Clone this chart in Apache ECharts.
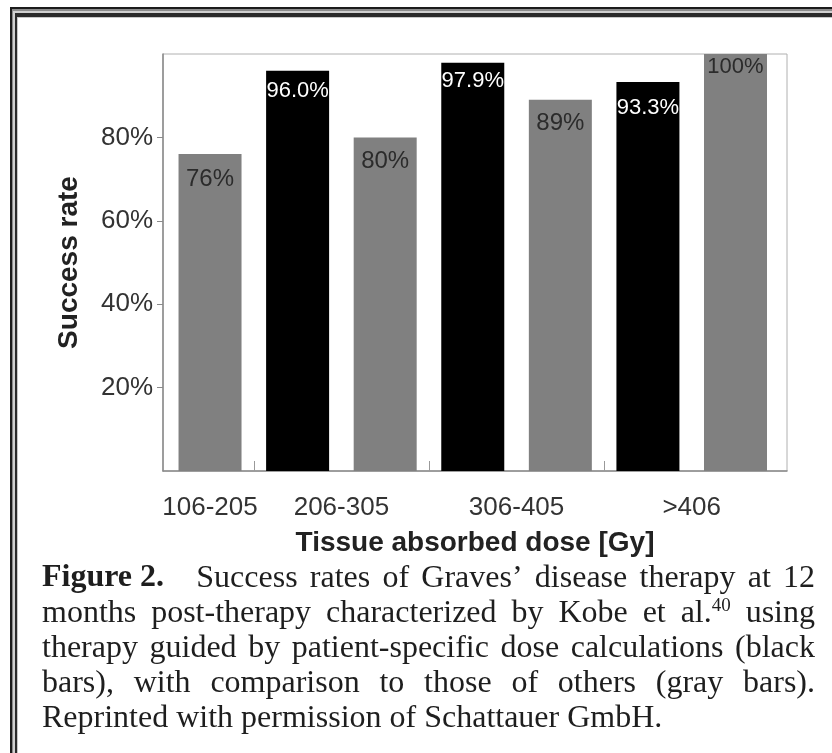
<!DOCTYPE html>
<html>
<head>
<meta charset="utf-8">
<script src="https://cdn.jsdelivr.net/npm/echarts@6/dist/echarts.min.js"></script>
<style>
html, body { margin: 0; padding: 0; background: #fff; }
#chart { width: 832px; height: 753px; }
</style>
</head>
<body>
<div id="chart"></div>
<script>
var groups = ['106-205', '206-305', '306-405', '>406'];
var groupPos = [0, 1.5, 3.5, 5.5];
var rates = [76, 96.0, 80, 97.9, 89, 93.3, 100];
var kobe = [false, true, false, true, false, true, false];
var yTicks = [20, 40, 60, 80];

// label offsets inside the bars, as they sit in the figure
var labelGap = [13, 9, 12, 7, 12, 15, 2];
var labelSize = [24, 22, 24, 22, 24, 22, 22];

var captionLines = [
    ['*Figure 2.', 'Success', 'rates', 'of', 'Graves\u2019', 'disease', 'therapy', 'at', '12'],
    ['months', 'post-therapy', 'characterized', 'by', 'Kobe', 'et', 'al.^40', 'using'],
    ['therapy', 'guided', 'by', 'patient-specific', 'dose', 'calculations', '(black'],
    ['bars),', 'with', 'comparison', 'to', 'those', 'of', 'others', '(gray', 'bars).'],
    ['Reprinted', 'with', 'permission', 'of', 'Schattauer', 'GmbH.']
];

var chart = echarts.init(document.getElementById('chart'));

function captionGraphics() {
    var ctx = document.createElement('canvas').getContext('2d');
    var fs = 32, supFs = 19;
    var fam = '"Liberation Serif", "Times New Roman", serif';
    var normal = fs + 'px ' + fam;
    var bold = 'bold ' + fs + 'px ' + fam;
    var supFont = supFs + 'px ' + fam;
    var left = 42, right = 815, base0 = 589, lead = 35;
    var out = [];

    function parts(tok) {
        if (tok.charAt(0) === '*') return [{ t: tok.slice(1), f: bold, dy: 0, mid: fs * 0.3375 }];
        var k = tok.indexOf('^');
        if (k > 0) {
            return [
                { t: tok.slice(0, k), f: normal, dy: 0, mid: fs * 0.3375 },
                { t: tok.slice(k + 1), f: supFont, dy: -12, mid: supFs * 0.3375 }
            ];
        }
        return [{ t: tok, f: normal, dy: 0, mid: fs * 0.3375 }];
    }

    captionLines.forEach(function (line, li) {
        var toks = line.map(function (tok) {
            var p = parts(tok);
            var w = 0;
            p.forEach(function (q) { ctx.font = q.f; q.w = ctx.measureText(q.t).width; w += q.w; });
            return { p: p, w: w };
        });
        var total = toks.reduce(function (s, t) { return s + t.w; }, 0);
        var extra = li === 0 ? 20 : 0;
        ctx.font = normal;
        var gap = ctx.measureText(' ').width;
        if (li < captionLines.length - 1) gap = (right - left - total - extra) / (toks.length - 1);
        var x = left;
        var base = base0 + li * lead;
        toks.forEach(function (tk, ti) {
            tk.p.forEach(function (q) {
                out.push({
                    type: 'text', x: x, y: base + q.dy - q.mid,
                    style: { text: q.t, font: q.f, fill: '#1e1e1e', textVerticalAlign: 'middle' }
                });
                x += q.w;
            });
            x += gap + (li === 0 && ti === 0 ? extra : 0);
        });
    });
    return out;
}

function frameGraphics() {
    var bands = [
        [10, 7, 822, 2, '#1c1c1c'], [10, 9, 822, 2, '#8c8c8c'], [10, 11, 822, 2, '#d0d0d0'],
        [10, 13, 822, 4, '#2a2a2a'], [17, 17, 815, 1, '#c8c8c8'],
        [10, 7, 2, 746, '#1c1c1c'], [12, 9, 1, 744, '#8c8c8c'], [13, 11, 2, 742, '#d0d0d0'],
        [15, 13, 2, 740, '#2a2a2a'], [17, 17, 1, 736, '#c8c8c8']
    ];
    return bands.map(function (b) {
        return { type: 'rect', shape: { x: b[0], y: b[1], width: b[2], height: b[3] }, style: { fill: b[4] }, z: 10 };
    });
}

var barData = rates.map(function (v, i) {
    return {
        value: [i, v],
        itemStyle: { color: kobe[i] ? '#000000' : '#808080' },
        label: {
            color: kobe[i] ? '#ffffff' : '#2b2b2b',
            fontSize: labelSize[i],
            distance: labelGap[i],
            formatter: kobe[i] ? v.toFixed(1) + '%' : v + '%'
        }
    };
});

var option = {
    animation: false,
    textStyle: { fontFamily: '"Liberation Sans", Arial, sans-serif' },
    grid: {
        left: 163, top: 54, right: 45, bottom: 282,
        show: true, borderColor: '#b0b0b0', borderWidth: 1
    },
    xAxis: {
        type: 'value', min: -0.537, max: 6.588,
        name: 'Tissue absorbed dose [Gy]', nameLocation: 'middle', nameGap: 58,
        nameTextStyle: { fontSize: 28, fontWeight: 'bold', color: '#222' },
        axisLine: { show: true, onZero: false, lineStyle: { color: '#8a8a8a', width: 1.5 } },
        axisTick: { show: true, inside: true, length: 10, customValues: [0.5, 2.5, 4.5], lineStyle: { color: '#999' } },
        axisLabel: {
            customValues: groupPos, fontSize: 26, color: '#333', margin: 24,
            formatter: function (v) {
                for (var i = 0; i < groupPos.length; i++) if (Math.abs(groupPos[i] - v) < 1e-6) return groups[i];
                return '';
            }
        },
        splitLine: { show: false }
    },
    yAxis: {
        type: 'value', min: 0, max: 100,
        name: 'Success rate', nameLocation: 'middle', nameGap: 80,
        nameTextStyle: { fontSize: 28, fontWeight: 'bold', color: '#222' },
        axisLine: { show: true, onZero: false, lineStyle: { color: '#8a8a8a', width: 1.5 } },
        axisTick: { show: true, length: 6, customValues: yTicks, lineStyle: { color: '#8a8a8a' } },
        axisLabel: { customValues: yTicks, fontSize: 26, color: '#333', margin: 10, formatter: '{value}%' },
        splitLine: { show: false }
    },
    series: [{
        type: 'bar',
        barWidth: 63,
        label: { show: true, position: 'insideTop' },
        data: barData
    }],
    graphic: frameGraphics().concat(captionGraphics())
};

chart.setOption(option);
</script>
</body>
</html>
